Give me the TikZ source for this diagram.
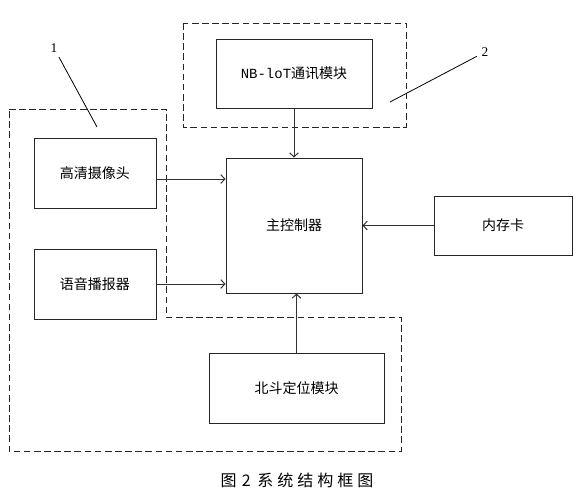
\documentclass[tikz,border=0pt]{standalone}
\usepackage{fontspec}
\setmainfont{Noto Sans CJK SC}
\newfontfamily\monofont{Liberation Mono}
\newfontfamily\serifnum{Liberation Serif}
\usetikzlibrary{positioning, arrows.meta}

\begin{document}
\begin{tikzpicture}[x=0.75pt, y=-0.75pt, font=\fontsize{10.5pt}{12pt}\selectfont]

% Estilos
\tikzset{
    modulo/.style={rectangle, draw=black!85, line width=0.75pt, inner sep=0pt, minimum width=91.5pt, minimum height=52.5pt},
    regiao/.style={draw=black!85, line width=0.75pt, dash pattern=on 5pt off 2.6pt},
    seta/.style={-{Straight Barb[length=3pt, width=6.5pt]}, line width=0.75pt, draw=black!80},
    guia/.style={line width=0.6pt}
}
\useasboundingbox (0,0) rectangle (576,497);

% Nós
\node (main) [modulo, minimum width=102pt, minimum height=101.25pt] at (294,225.5) {主控制器};
\node (nbiot) [modulo, minimum width=117pt, minimum height=51.75pt, above=36.75pt of main] {{\monofont NB-loT}通讯模块};
\node (memcard) [modulo, minimum width=103.5pt, minimum height=44.25pt, right=53.25pt of main] {内存卡};
\node (beidou) [modulo, minimum width=131.25pt, below=44.25pt of main, xshift=1.9pt] {北斗定位模块};
\node (camera) [modulo] at (95,173) {高清摄像头};
\node (voice) [modulo, below=30pt of camera] {语音播报器};

% Regiões
\draw [regiao] (9,109) -- (166,109) -- (166,317) -- (401,317) -- (401,451) -- (9,451) -- cycle;
\draw [regiao] (183,23) rectangle (406,127);

% Rótulos
\node (lab1) [font=\serifnum\fontsize{10pt}{12pt}\selectfont] at (54,48) {1};
\node (lab2) [font=\serifnum\fontsize{10pt}{12pt}\selectfont] at (485,52) {2};
\coordinate (ponta1) at (97,127);
\coordinate (ponta2) at (390,102);
\draw [guia] (lab1) -- (ponta1);
\draw [guia] (lab2) -- (ponta2);
\node (caption) [font=\fontsize{12pt}{14pt}\selectfont] at (297,480) {图\hspace{4pt}2\hspace{5pt}系\hspace{3pt}统\hspace{3pt}结\hspace{3pt}构\hspace{3pt}框\hspace{3pt}图};

% Setas
\draw [seta] (nbiot) -- (main);
\draw [seta] ([yshift=-4.5pt]camera.east) -- ([yshift=-4.5pt]camera.east -| main.west);
\draw [seta] (voice.east) -- (voice.east -| main.west);
\draw [seta] (memcard.west) -- (memcard.west -| main.east);
\draw [seta] (beidou.north) -- (beidou.north |- main.south);

\end{tikzpicture}
\end{document}
